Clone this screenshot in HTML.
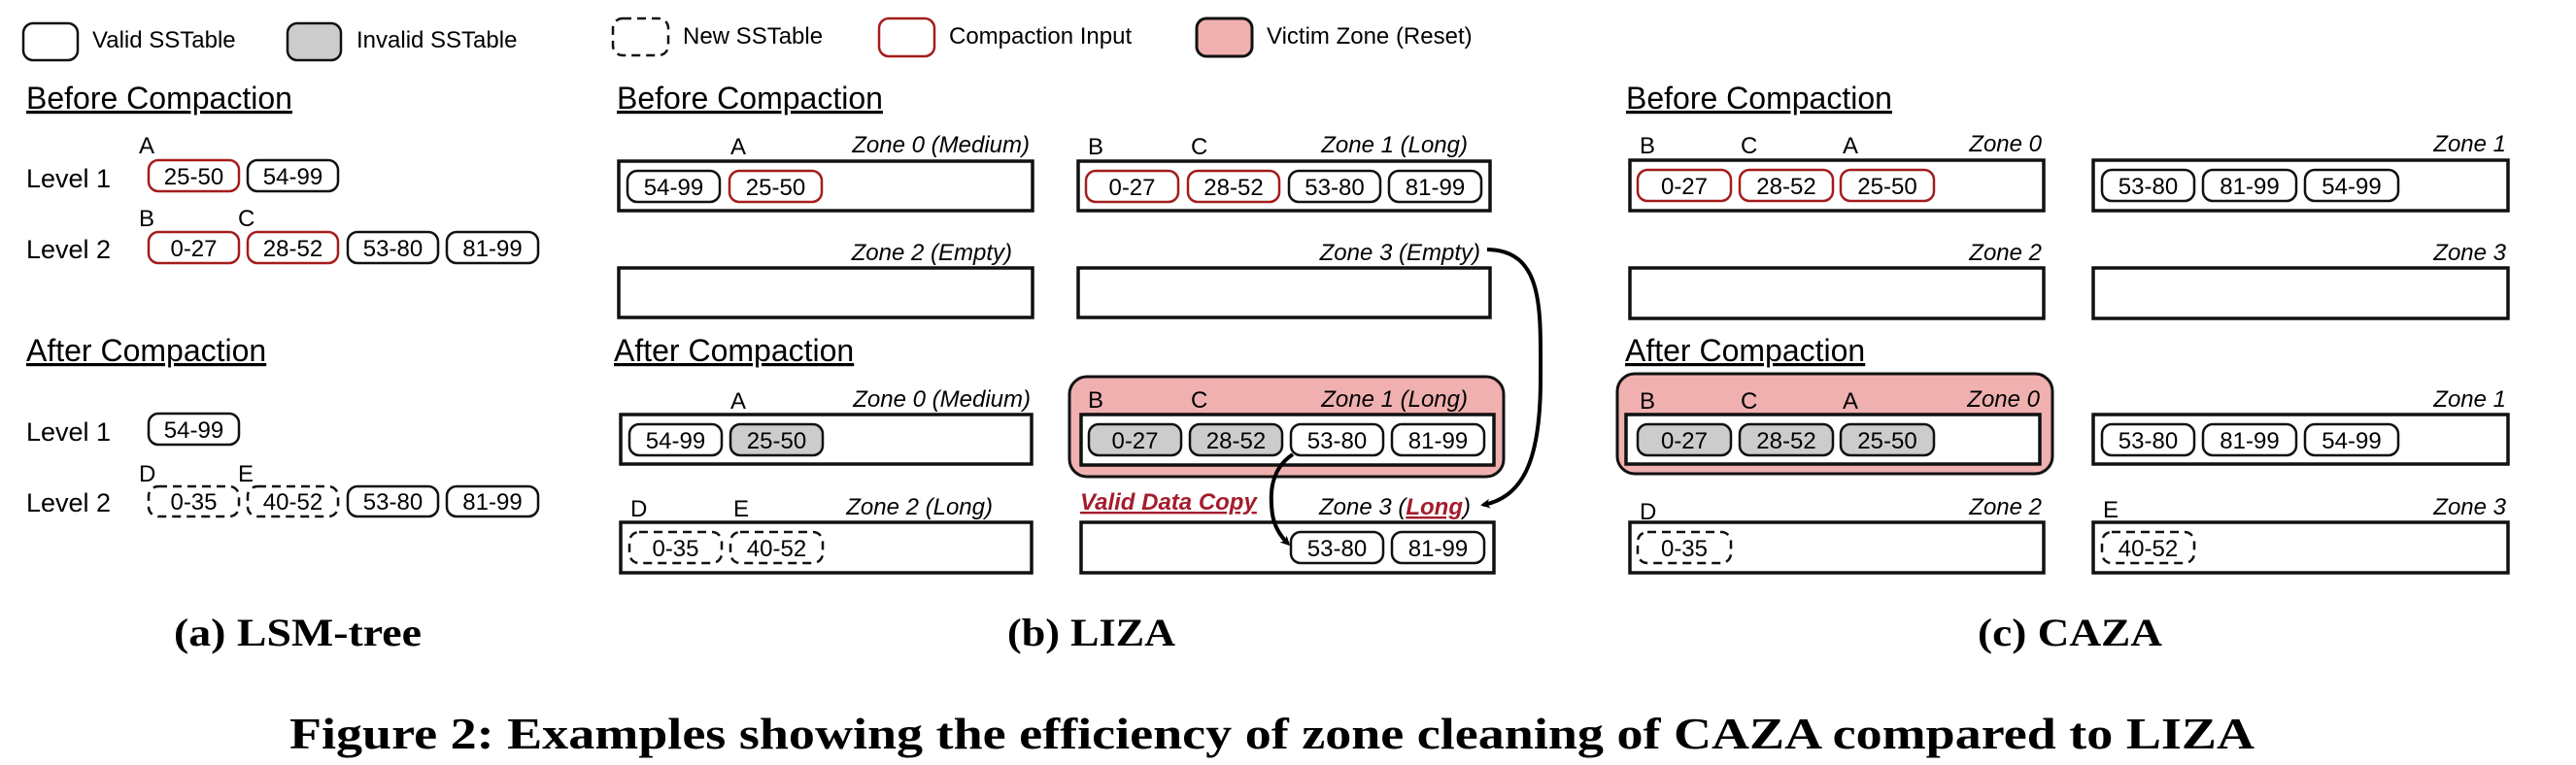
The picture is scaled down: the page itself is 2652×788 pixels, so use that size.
<!DOCTYPE html>
<html><head><meta charset="utf-8"><style>
html,body{margin:0;padding:0;background:#fff;}
svg{display:block;}
.t{font-family:"Liberation Sans",sans-serif;fill:#000;}
.ch{font-family:"Liberation Sans",sans-serif;font-size:24px;text-anchor:middle;}
.zl{font-family:"Liberation Sans",sans-serif;font-style:italic;font-size:24px;text-anchor:end;}
.h{font-family:"Liberation Sans",sans-serif;font-size:32px;text-decoration:underline;}
.lt{font-family:"Liberation Sans",sans-serif;font-size:24px;}
.lv{font-family:"Liberation Sans",sans-serif;font-size:27px;}
.zb{fill:#fff;stroke:#111;stroke-width:3.5;}
.cv{fill:#fff;stroke:#111;stroke-width:2.5;}
.ci{fill:#fff;stroke:#a51c1c;stroke-width:2.5;}
.cg{fill:#ccc;stroke:#111;stroke-width:2.5;}
.cn{fill:#fff;stroke:#111;stroke-width:2.5;stroke-dasharray:9 6;}
.vz{fill:#f0b0b0;stroke:#111;stroke-width:3;}
.cap{font-family:"Liberation Serif",serif;font-weight:bold;}
</style></head><body>
<svg width="2652" height="788" viewBox="0 0 2652 788" xmlns="http://www.w3.org/2000/svg">
<defs>
<marker id="ah" markerWidth="10" markerHeight="10" refX="7" refY="5" orient="auto" markerUnits="userSpaceOnUse" viewBox="0 0 10 10">
<path d="M0,0 L10,5 L0,10 L3,5 z" fill="#000"/></marker>
</defs>
<!-- legend -->
<rect x="24" y="24" width="56" height="38" rx="10" class="cv"/>
<text x="95" y="49" class="lt">Valid SSTable</text>
<rect x="296" y="24" width="55" height="38" rx="10" class="cg"/>
<text x="367" y="49" class="lt">Invalid SSTable</text>
<rect x="631" y="19" width="57" height="38" rx="10" class="cn"/>
<text x="703" y="45" class="lt">New SSTable</text>
<rect x="905" y="19" width="57" height="39" rx="10" class="ci"/>
<text x="977" y="45" class="lt">Compaction Input</text>
<rect x="1232" y="19" width="57" height="39" rx="10" class="vz"/>
<text x="1304" y="45" class="lt">Victim Zone (Reset)</text>

<!-- (a) -->
<text x="27" y="112" class="h">Before Compaction</text>
<text x="143" y="158" class="lt">A</text>
<text x="27" y="193" class="lv">Level 1</text>
<rect x="153" y="165" width="93" height="32" rx="10" class="ci"/><text x="199.5" y="190" class="ch">25-50</text>
<rect x="255" y="165" width="93" height="32" rx="10" class="cv"/><text x="301.5" y="190" class="ch">54-99</text>
<text x="143" y="233" class="lt">B</text><text x="245" y="233" class="lt">C</text>
<text x="27" y="266" class="lv">Level 2</text>
<rect x="153" y="239" width="93" height="32" rx="10" class="ci"/><text x="199.5" y="264" class="ch">0-27</text>
<rect x="255" y="239" width="93" height="32" rx="10" class="ci"/><text x="301.5" y="264" class="ch">28-52</text>
<rect x="358" y="239" width="93" height="32" rx="10" class="cv"/><text x="404.5" y="264" class="ch">53-80</text>
<rect x="460" y="239" width="94" height="32" rx="10" class="cv"/><text x="507" y="264" class="ch">81-99</text>
<text x="27" y="372" class="h">After Compaction</text>
<text x="27" y="454" class="lv">Level 1</text>
<rect x="153" y="426" width="93" height="32" rx="10" class="cv"/><text x="199.5" y="451" class="ch">54-99</text>
<text x="143" y="496" class="lt">D</text><text x="245" y="496" class="lt">E</text>
<text x="27" y="527" class="lv">Level 2</text>
<rect x="153" y="501" width="93" height="31" rx="10" class="cn"/><text x="199.5" y="525" class="ch">0-35</text>
<rect x="255" y="501" width="93" height="31" rx="10" class="cn"/><text x="301.5" y="525" class="ch">40-52</text>
<rect x="358" y="501" width="93" height="31" rx="10" class="cv"/><text x="404.5" y="525" class="ch">53-80</text>
<rect x="460" y="501" width="94" height="31" rx="10" class="cv"/><text x="507" y="525" class="ch">81-99</text>

<!-- (b) -->
<text x="635" y="112" class="h">Before Compaction</text>
<text x="752" y="159" class="lt">A</text>
<text x="1060" y="157" class="zl">Zone 0 (Medium)</text>
<rect x="637" y="166" width="426" height="51" class="zb"/>
<rect x="646" y="176" width="95" height="32" rx="10" class="cv"/><text x="693.5" y="201" class="ch">54-99</text>
<rect x="751" y="176" width="95" height="32" rx="10" class="ci"/><text x="798.5" y="201" class="ch">25-50</text>
<text x="1120" y="159" class="lt">B</text><text x="1226" y="159" class="lt">C</text>
<text x="1511" y="157" class="zl">Zone 1 (Long)</text>
<rect x="1110" y="166" width="424" height="51" class="zb"/>
<rect x="1118" y="176" width="95" height="32" rx="10" class="ci"/><text x="1165.5" y="201" class="ch">0-27</text>
<rect x="1223" y="176" width="94" height="32" rx="10" class="ci"/><text x="1270" y="201" class="ch">28-52</text>
<rect x="1327" y="176" width="94" height="32" rx="10" class="cv"/><text x="1374" y="201" class="ch">53-80</text>
<rect x="1430" y="176" width="95" height="32" rx="10" class="cv"/><text x="1477.5" y="201" class="ch">81-99</text>
<text x="1042" y="268" class="zl">Zone 2 (Empty)</text>
<rect x="637" y="276" width="426" height="51" class="zb"/>
<text x="1524" y="268" class="zl">Zone 3 (Empty)</text>
<rect x="1110" y="276" width="424" height="51" class="zb"/>
<text x="632" y="372" class="h">After Compaction</text>
<text x="752" y="421" class="lt">A</text>
<text x="1061" y="419" class="zl">Zone 0 (Medium)</text>
<rect x="639" y="427" width="423" height="51" class="zb"/>
<rect x="648" y="437" width="95" height="32" rx="10" class="cv"/><text x="695.5" y="462" class="ch">54-99</text>
<rect x="752" y="437" width="95" height="32" rx="10" class="cg"/><text x="799.5" y="462" class="ch">25-50</text>
<rect x="1101" y="388" width="447" height="103" rx="18" class="vz"/>
<text x="1120" y="420" class="lt">B</text><text x="1226" y="420" class="lt">C</text>
<text x="1511" y="419" class="zl">Zone 1 (Long)</text>
<rect x="1113" y="427" width="425" height="52" class="zb"/>
<rect x="1121" y="437" width="95" height="32" rx="10" class="cg"/><text x="1168.5" y="462" class="ch">0-27</text>
<rect x="1225" y="437" width="95" height="32" rx="10" class="cg"/><text x="1272.5" y="462" class="ch">28-52</text>
<rect x="1329" y="437" width="95" height="32" rx="10" class="cv"/><text x="1376.5" y="462" class="ch">53-80</text>
<rect x="1433" y="437" width="95" height="32" rx="10" class="cv"/><text x="1480.5" y="462" class="ch">81-99</text>
<text x="649" y="532" class="lt">D</text><text x="755" y="532" class="lt">E</text>
<text x="1022" y="530" class="zl">Zone 2 (Long)</text>
<rect x="639" y="538" width="423" height="52" class="zb"/>
<rect x="648" y="548" width="95" height="32" rx="10" class="cn"/><text x="695.5" y="573" class="ch">0-35</text>
<rect x="752" y="548" width="95" height="32" rx="10" class="cn"/><text x="799.5" y="573" class="ch">40-52</text>
<text x="1112" y="525" class="t" style="font-size:24px;font-weight:bold;font-style:italic;fill:#a51c2c;text-decoration:underline;">Valid Data Copy</text>
<text x="1514" y="530" class="zl">Zone 3 (<tspan style="font-weight:bold;fill:#a51c2c;text-decoration:underline;">Long</tspan>)</text>
<rect x="1113" y="538" width="425" height="52" class="zb"/>
<rect x="1329" y="548" width="95" height="32" rx="10" class="cv"/><text x="1376.5" y="573" class="ch">53-80</text>
<rect x="1433" y="548" width="95" height="32" rx="10" class="cv"/><text x="1480.5" y="573" class="ch">81-99</text>
<path d="M1531,257 C1590,258 1586,320 1586,390 C1586,470 1570,512 1527,520" fill="none" stroke="#000" stroke-width="4" marker-end="url(#ah)"/>
<path d="M1331,468 C1305,485 1308,515 1310,530 C1312,542 1318,552 1326,560" fill="none" stroke="#000" stroke-width="4" marker-end="url(#ah)"/>

<!-- (c) -->
<text x="1674" y="112" class="h">Before Compaction</text>
<text x="1688" y="158" class="lt">B</text><text x="1792" y="158" class="lt">C</text><text x="1897" y="158" class="lt">A</text>
<text x="2102" y="156" class="zl">Zone 0</text>
<rect x="1678" y="165" width="426" height="52" class="zb"/>
<rect x="1686" y="175" width="96" height="32" rx="10" class="ci"/><text x="1734" y="200" class="ch">0-27</text>
<rect x="1791" y="175" width="96" height="32" rx="10" class="ci"/><text x="1839" y="200" class="ch">28-52</text>
<rect x="1895" y="175" width="96" height="32" rx="10" class="ci"/><text x="1943" y="200" class="ch">25-50</text>
<text x="2580" y="156" class="zl">Zone 1</text>
<rect x="2155" y="165" width="427" height="52" class="zb"/>
<rect x="2164" y="175" width="95" height="32" rx="10" class="cv"/><text x="2211.5" y="200" class="ch">53-80</text>
<rect x="2268" y="175" width="96" height="32" rx="10" class="cv"/><text x="2316" y="200" class="ch">81-99</text>
<rect x="2373" y="175" width="96" height="32" rx="10" class="cv"/><text x="2421" y="200" class="ch">54-99</text>
<text x="2102" y="268" class="zl">Zone 2</text>
<rect x="1678" y="276" width="426" height="52" class="zb"/>
<text x="2580" y="268" class="zl">Zone 3</text>
<rect x="2155" y="276" width="427" height="52" class="zb"/>
<text x="1673" y="372" class="h">After Compaction</text>
<rect x="1665" y="385" width="448" height="103" rx="18" class="vz"/>
<text x="1688" y="421" class="lt">B</text><text x="1792" y="421" class="lt">C</text><text x="1897" y="421" class="lt">A</text>
<text x="2100" y="419" class="zl">Zone 0</text>
<rect x="1674" y="427" width="426" height="51" class="zb"/>
<rect x="1686" y="437" width="96" height="32" rx="10" class="cg"/><text x="1734" y="462" class="ch">0-27</text>
<rect x="1791" y="437" width="96" height="32" rx="10" class="cg"/><text x="1839" y="462" class="ch">28-52</text>
<rect x="1895" y="437" width="96" height="32" rx="10" class="cg"/><text x="1943" y="462" class="ch">25-50</text>
<text x="2580" y="419" class="zl">Zone 1</text>
<rect x="2155" y="427" width="427" height="51" class="zb"/>
<rect x="2164" y="437" width="95" height="32" rx="10" class="cv"/><text x="2211.5" y="462" class="ch">53-80</text>
<rect x="2268" y="437" width="96" height="32" rx="10" class="cv"/><text x="2316" y="462" class="ch">81-99</text>
<rect x="2373" y="437" width="96" height="32" rx="10" class="cv"/><text x="2421" y="462" class="ch">54-99</text>
<text x="1688" y="535" class="lt">D</text>
<text x="2102" y="530" class="zl">Zone 2</text>
<rect x="1678" y="538" width="426" height="52" class="zb"/>
<rect x="1686" y="548" width="96" height="32" rx="10" class="cn"/><text x="1734" y="573" class="ch">0-35</text>
<text x="2165" y="533" class="lt">E</text>
<text x="2580" y="530" class="zl">Zone 3</text>
<rect x="2155" y="538" width="427" height="52" class="zb"/>
<rect x="2164" y="548" width="95" height="32" rx="10" class="cn"/><text x="2211.5" y="573" class="ch">40-52</text>

<!-- captions -->
<text x="179" y="665" class="cap" style="font-size:40px" textLength="255" lengthAdjust="spacingAndGlyphs">(a) LSM-tree</text>
<text x="1037" y="665" class="cap" style="font-size:40px" textLength="173" lengthAdjust="spacingAndGlyphs">(b) LIZA</text>
<text x="2036" y="665" class="cap" style="font-size:40px" textLength="190" lengthAdjust="spacingAndGlyphs">(c) CAZA</text>
<text x="298" y="771" class="cap" style="font-size:46px" textLength="2023" lengthAdjust="spacingAndGlyphs">Figure 2: Examples showing the efficiency of zone cleaning of CAZA compared to LIZA</text>
</svg>
</body></html>
